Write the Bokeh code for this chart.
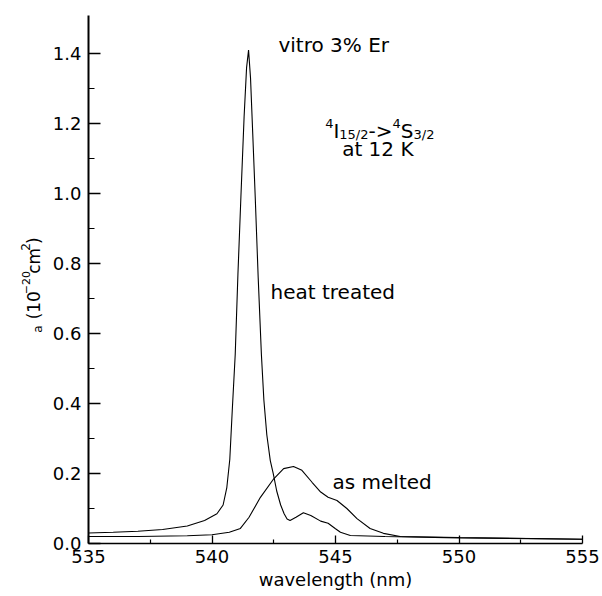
import math
from bokeh.plotting import figure
from bokeh.layouts import row
from bokeh.models import Range1d, FixedTicker, PrintfTickFormatter, Label
from bokeh.core.properties import value
from bokeh.embed import file_html
from bokeh.resources import INLINE

# heat treated sample absorption cross-section
ht_wl = [535.0, 536.0, 537.0, 538.0, 539.0, 539.7, 540.2, 540.45, 540.6, 540.72, 540.82,
         540.94, 541.05, 541.17, 541.3, 541.4, 541.48, 541.56, 541.65, 541.75, 541.87,
         542.0, 542.1, 542.22, 542.36, 542.48, 542.62, 542.78, 542.92, 543.04, 543.16,
         543.4, 543.7, 544.0, 544.4, 544.7, 545.0, 545.2, 545.6, 547.0, 550.0, 553.0, 555.0]
ht_sig = [0.030, 0.032, 0.035, 0.040, 0.050, 0.066, 0.085, 0.11, 0.16, 0.24, 0.38,
          0.54, 0.77, 0.99, 1.22, 1.36, 1.41, 1.33, 1.17, 0.99, 0.76,
          0.54, 0.41, 0.31, 0.237, 0.20, 0.15, 0.11, 0.085, 0.07, 0.066,
          0.075, 0.088, 0.08, 0.064, 0.058, 0.042, 0.032, 0.023, 0.020, 0.016, 0.014, 0.012]

# as melted sample absorption cross-section
am_wl = [535.0, 537.0, 539.0, 540.0, 540.7, 541.15, 541.5, 541.96, 542.5, 542.9, 543.3,
         543.64, 544.05, 544.4, 544.7, 545.06, 545.46, 545.87, 546.4, 546.94, 547.62,
         550.0, 555.0]
am_sig = [0.020, 0.020, 0.022, 0.025, 0.032, 0.043, 0.075, 0.132, 0.185, 0.214, 0.220,
          0.209, 0.175, 0.147, 0.132, 0.123, 0.100, 0.071, 0.043, 0.029, 0.020,
          0.017, 0.012]

x_major = [535, 540, 545, 550, 555]
x_minor = [537.5, 542.5, 547.5, 552.5]
y_major = [0.0, 0.2, 0.4, 0.6, 0.8, 1.0, 1.2, 1.4]
y_minor = [0.1, 0.3, 0.5, 0.7, 0.9, 1.1, 1.3]

FONT = "DejaVu Sans"
LEFT_W = 46
H = 596

p = figure(width=602 - LEFT_W, height=H, output_backend="svg", toolbar_location=None,
           x_range=Range1d(535, 555), y_range=Range1d(0, 1.509),
           min_border_left=88 - LEFT_W, min_border_right=20, min_border_top=15,
           min_border_bottom=53)
p.outline_line_color = None
p.grid.visible = False
p.background_fill_color = "white"
p.border_fill_color = "white"

p.line(ht_wl, ht_sig, line_color="black", line_width=1.1)
p.line(am_wl, am_sig, line_color="black", line_width=1.1)

xa = p.xaxis[0]
xa.ticker = FixedTicker(ticks=x_major, minor_ticks=x_minor)
xa.major_tick_in = 8
xa.major_tick_out = 0
xa.minor_tick_in = 4
xa.minor_tick_out = 0
xa.axis_line_width = 1.5
xa.major_tick_line_width = 1.3
xa.minor_tick_line_width = 1.2
xa.major_label_text_font = FONT
xa.major_label_text_font_size = "18px"
xa.major_label_text_color = "black"
xa.major_label_standoff = 6
xa.axis_label = "wavelength (nm)"
xa.axis_label_text_font = FONT
xa.axis_label_text_font_size = "18px"
xa.axis_label_text_font_style = "normal"
xa.axis_label_text_color = "black"
xa.axis_label_standoff = 3

ya = p.yaxis[0]
ya.ticker = FixedTicker(ticks=y_major, minor_ticks=y_minor)
ya.formatter = PrintfTickFormatter(format="%.1f")
ya.major_tick_in = 12
ya.major_tick_out = 0
ya.minor_tick_in = 6
ya.minor_tick_out = 0
ya.axis_line_width = 2
ya.major_tick_line_width = 1.3
ya.minor_tick_line_width = 1.2
ya.major_label_text_font = FONT
ya.major_label_text_font_size = "18px"
ya.major_label_text_color = "black"
ya.major_label_standoff = 7

def lab(x, y, t, size="20px", xo=0, yo=0, align="left", baseline="middle"):
    p.add_layout(Label(x=x, y=y, text=t, x_offset=xo, y_offset=yo,
                       text_font=FONT, text_font_size=size, text_align=align,
                       text_baseline=baseline, text_color="black"))

lab(542.69, 1.425, "vitro 3% Er")
lab(542.37, 0.718, "heat treated")
lab(544.88, 0.175, "as melted")
lab(545.27, 1.127, "at 12 K")

# 4I15/2 -> 4S3/2 transition label
bx, by = 544.58, 1.18
lab(bx, by, "4", "13px", 0, 7, baseline="alphabetic")
lab(bx, by, "I", "20px", 8.3, 0, baseline="alphabetic")
lab(bx, by, "15/2", "13px", 14.2, -4, baseline="alphabetic")
lab(bx, by, "->", "20px", 43.4, 0, baseline="alphabetic")
lab(bx, by, "4", "13px", 67.4, 7, baseline="alphabetic")
lab(bx, by, "S", "20px", 75.7, 0, baseline="alphabetic")
lab(bx, by, "3/2", "13px", 88.4, -4, baseline="alphabetic")

# narrow left panel holding the rotated y-axis label: sigma_a (10^-20 cm^2)
q = figure(width=LEFT_W, height=H, output_backend="svg", toolbar_location=None,
           x_range=Range1d(0, LEFT_W), y_range=Range1d(0, H),
           x_axis_location=None, y_axis_location=None,
           min_border_left=0, min_border_right=0, min_border_top=0, min_border_bottom=0)
q.grid.visible = False
q.outline_line_color = None
q.background_fill_color = "white"
q.border_fill_color = "white"

R = math.pi / 2
pieces = [  # text, font size, baseline x, start y (from bottom of panel)
    ("a", "12px", 37, 238),
    ("(10", "17px", 33, 253),
    ("\u221220", "11px", 25, 281.3),
    ("cm", "17px", 33, 304.5),
    ("2", "12px", 25, 330.4),
    (")", "17px", 33, 338),
]
for t, fs, px, py in pieces:
    q.text(x=[px], y=[py], text=[t], angle=R, text_font=value(FONT),
           text_font_size=fs, text_align="left", text_baseline="alphabetic",
           text_color="black")

layout = row(q, p, spacing=0)
open("out.html", "w").write(file_html(layout, INLINE))
